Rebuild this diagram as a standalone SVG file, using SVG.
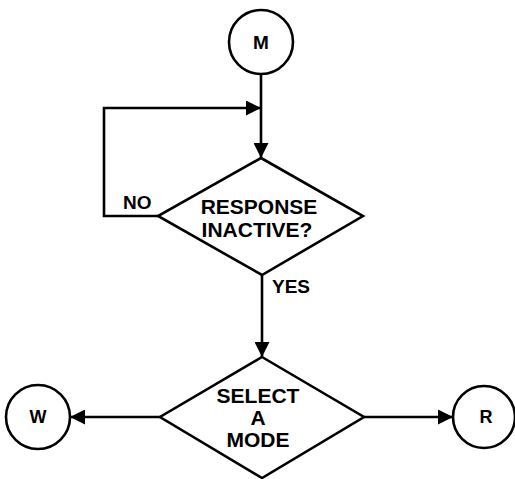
<svg xmlns="http://www.w3.org/2000/svg" width="515" height="479" viewBox="0 0 515 479">
<defs>
<style>
.s{fill:#fff;stroke:#000;stroke-width:2.6}
.c{fill:none;stroke:#000;stroke-width:2.6}
.t{font-family:"Liberation Sans",Arial,sans-serif;font-weight:bold;font-size:21px;fill:#000;text-anchor:middle}
.l{font-family:"Liberation Sans",Arial,sans-serif;font-weight:bold;font-size:19px;fill:#000}
</style>
<marker id="a" viewBox="0 0 10 10" refX="10" refY="5" markerWidth="15" markerHeight="15" markerUnits="userSpaceOnUse" orient="auto">
<path d="M0,0 L10,5 L0,10 z" fill="#000"/>
</marker>
</defs>
<rect width="515" height="479" fill="#fff"/>
<g id="connectors">
<line class="c" x1="261" y1="74" x2="261" y2="158" marker-end="url(#a)"/>
<polyline class="c" points="158,216 104,216 104,108 261,108" marker-end="url(#a)"/>
<line class="c" x1="262" y1="275" x2="262" y2="357" marker-end="url(#a)"/>
<line class="c" x1="160" y1="417" x2="70" y2="417" marker-end="url(#a)"/>
<line class="c" x1="364" y1="417" x2="453" y2="417" marker-end="url(#a)"/>
<text class="l" x="123" y="209">NO</text>
<text class="l" x="272" y="293">YES</text>
</g>
<g id="M">
<circle class="s" cx="261" cy="42" r="32"/>
<text class="t" x="261" y="49" style="font-size:19px">M</text>
</g>
<g id="response">
<polygon class="s" points="261,158 363,216 262,275 158,216"/>
<text class="t" x="259" y="214">RESPONSE</text>
<text class="t" x="257" y="237">INACTIVE?</text>
</g>
<g id="select">
<polygon class="s" points="262,357 364,417 262,478 160,417"/>
<text class="t" x="258" y="403">SELECT</text>
<text class="t" x="258" y="425">A</text>
<text class="t" x="258" y="447">MODE</text>
</g>
<g id="W">
<circle class="s" cx="38" cy="417" r="32"/>
<text class="t" x="38" y="423" style="font-size:18px">W</text>
</g>
<g id="R">
<circle class="s" cx="484" cy="417" r="31"/>
<text class="t" x="486" y="423" style="font-size:18px">R</text>
</g>
</svg>
